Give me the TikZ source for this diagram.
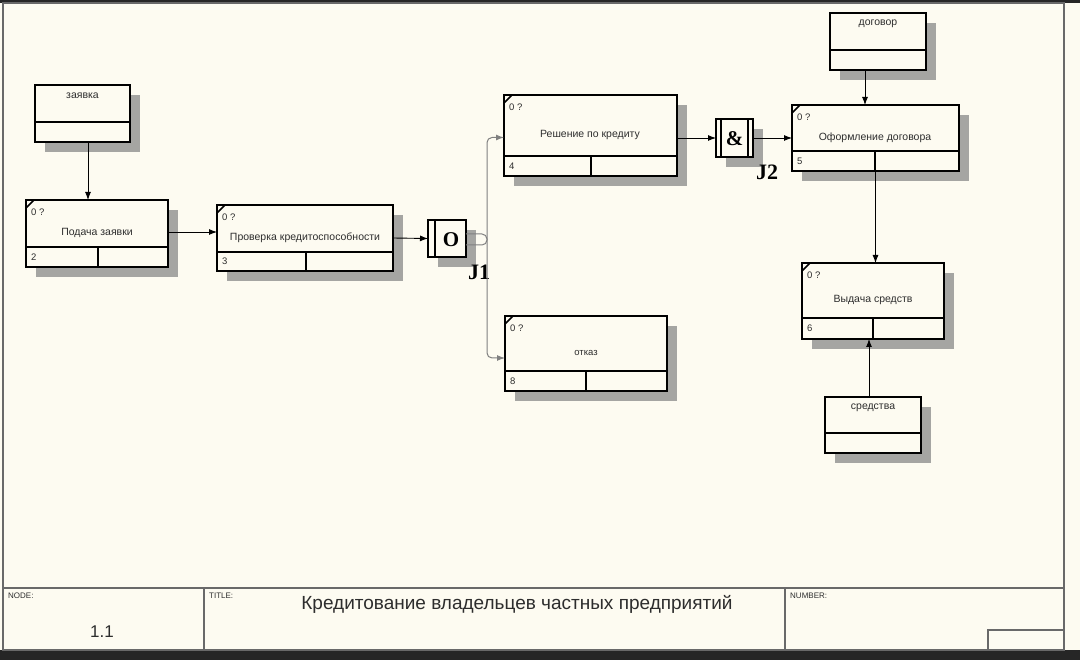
\documentclass[tikz,border=0pt]{standalone}
\usepackage{fontspec}
\setmainfont{Liberation Sans}
\newfontfamily\serifb{Liberation Serif}
\usetikzlibrary{arrows.meta,patterns,calc}
\definecolor{bg}{RGB}{253,251,241}
\definecolor{framec}{RGB}{105,105,105}
\definecolor{darkc}{RGB}{38,38,38}
\definecolor{shadec}{RGB}{165,165,162}
\definecolor{txt}{RGB}{45,45,45}
\tikzset{
  box/.style={draw=black, line width=1.6, fill=bg, rectangle, inner sep=0, outer sep=0},
  shadowfill/.style={fill=shadec},
  lbl/.style={font=\fontsize{10.5}{12}\selectfont, text=txt, inner sep=0},
  smalltxt/.style={font=\fontsize{9.5}{10}\selectfont, text=txt, inner sep=0, anchor=west},
  arr/.style={draw=black, line width=0.9, -{Latex[length=8,width=6]}},
  garr/.style={draw=gray, line width=1, -{Latex[length=8,width=6]}, rounded corners=5},
  jlab/.style={font=\serifb\bfseries\fontsize{22}{24}\selectfont, inner sep=0},
  jsym/.style={font=\serifb\bfseries\fontsize{21}{24}\selectfont, inner sep=0},
  tb/.style={font=\fontsize{8}{9}\selectfont, text=txt, inner sep=0, anchor=north west},
}
% activity box: name, x1, y1, x2, y2, ydiv, xdiv, number
\newcommand\actbox[8]{%
  \fill[shadowfill] (#2+10,#3+10) rectangle (#4+10,#5+10);
  \node[box, minimum width=#4-#2, minimum height=#5-#3] (#1) at ({(#2+#4)/2},{(#3+#5)/2}) {};
  \draw[line width=1.6] (#2,#6) -- (#4,#6) (#7,#6) -- (#7,#5);
  \draw[line width=1.6] (#2,#3+8) -- (#2+8,#3);
  \node[smalltxt] (#1-q) at (#2+5,#3+12) {0 ?};
  \node[smalltxt] (#1-n) at (#2+5,{(#6+#5)/2}) {#8};
}
% referent box: name, x1, y1, x2, y2, ydiv, label
\newcommand\refbox[7]{%
  \fill[shadowfill] (#2+10,#3+10) rectangle (#4+10,#5+10);
  \node[box, minimum width=#4-#2, minimum height=#5-#3] (#1) at ({(#2+#4)/2},{(#3+#5)/2}) {};
  \draw[line width=1.6] (#2,#6) -- (#4,#6);
  \node[lbl] (#1-t) at ({(#2+#4)/2},#3+11) {#7};
}
\begin{document}
\begin{tikzpicture}[x=1pt,y=-1pt]
\useasboundingbox (0,0) rectangle (1080,660);
\fill[bg] (0,0) rectangle (1080,660);
\fill[darkc] (0,0) rectangle (1080,3);
\fill[darkc] (0,650) rectangle (1080,660);
\draw[framec, line width=1.3] (3,3) rectangle (1064,650);
% title block
\draw[framec, line width=1.3] (3,588) -- (1064,588) (204,588) -- (204,650) (785,588) -- (785,650)
  (988,650) -- (988,630) -- (1064,630);
\node[tb] (tnode) at (8,593) {NODE:};
\node[tb] (ttitle) at (209,593) {TITLE:};
\node[tb] (tnum) at (790,593) {NUMBER:};
\node[font=\fontsize{17}{18}\selectfont, text=txt, inner sep=0] (tnodeval) at (102,632) {1.1};
\node[font=\fontsize{19}{20}\selectfont, text=txt, inner sep=0] (ttitleval) at (517,604) {Кредитование владельцев частных предприятий};

% referents
\refbox{r1}{35}{85}{130}{142}{122}{заявка}
\refbox{r2}{830}{13}{926}{70}{50}{договор}
\refbox{r3}{825}{397}{921}{453}{433}{средства}

% activities
\actbox{a2}{26}{200}{168}{267}{247}{98}{2}
\node[lbl] (a2-t) at (97,233) {Подача заявки};
\actbox{a3}{217}{205}{393}{271}{252}{306}{3}
\node[lbl] (a3-t) at (305,238) {Проверка кредитоспособности};
\actbox{a4}{504}{95}{677}{176}{156}{591}{4}
\node[lbl] (a4-t) at (590,135) {Решение по кредиту};
\actbox{a5}{792}{105}{959}{171}{151}{875}{5}
\node[lbl] (a5-t) at (875,138) {Оформление договора};
\actbox{a6}{802}{263}{944}{339}{318}{873}{6}
\node[lbl] (a6-t) at (873,300) {Выдача средств};
\actbox{a8}{505}{316}{667}{391}{371}{586}{8}
\node[lbl, font=\fontsize{9.5}{10}\selectfont] (a8-t) at (586,353) {отказ};

% junction J1
\fill[shadowfill] (438,230) rectangle (476,267);
\node[box, minimum width=38, minimum height=37] (j1) at (447,238.5) {};
\draw[line width=1.6] (435,220) -- (435,257);
\node[jsym] (j1-s) at (451,240) {O};
\node[jlab] (j1-l) at (479,272) {J1};

% junction J2
\fill[shadowfill] (726,129) rectangle (763,167);
\node[box, minimum width=37, minimum height=38] (j2) at (734.5,138) {};
\draw[line width=1.6] (721,119) -- (721,157) (748,119) -- (748,157);
\node[jsym] (j2-s) at (734.5,139) {\&};
\node[jlab] (j2-l) at (767,172) {J2};

% connectors
\draw[arr] ([xshift=5.5]r1.south) -- ([xshift=-9]a2.north);
\draw[arr] ([yshift=1.5]a2.east) -- ([yshift=1.5]a2.east -| a3.west);
\draw[arr] (a3.east) -- (j1.west);
\coordinate (b1) at (487,0);
\coordinate (e4) at ([yshift=-2]a4.west);
\coordinate (e8) at ([yshift=-4.5]a8.west);
\draw[garr] ([yshift=-6.5]j1.east) -| (b1 |- e4) -- (e4);
\draw[garr] ([yshift=4.5]j1.east) -| (b1 |- e8) -- (e8);
\draw[arr] (j2.west -| a4.east) -- (j2.west);
\draw[arr] (j2.east) -- (j2.east -| a5.west);
\draw[arr] ([xshift=-13]r2.south) -- ([xshift=-13]r2.south |- a5.north);
\draw[arr] (a5.south) -- (a5.south |- a6.north);
\draw[arr] ([xshift=-4]r3.north) -- ([xshift=-4]r3.north |- a6.south);
\end{tikzpicture}
\end{document}
